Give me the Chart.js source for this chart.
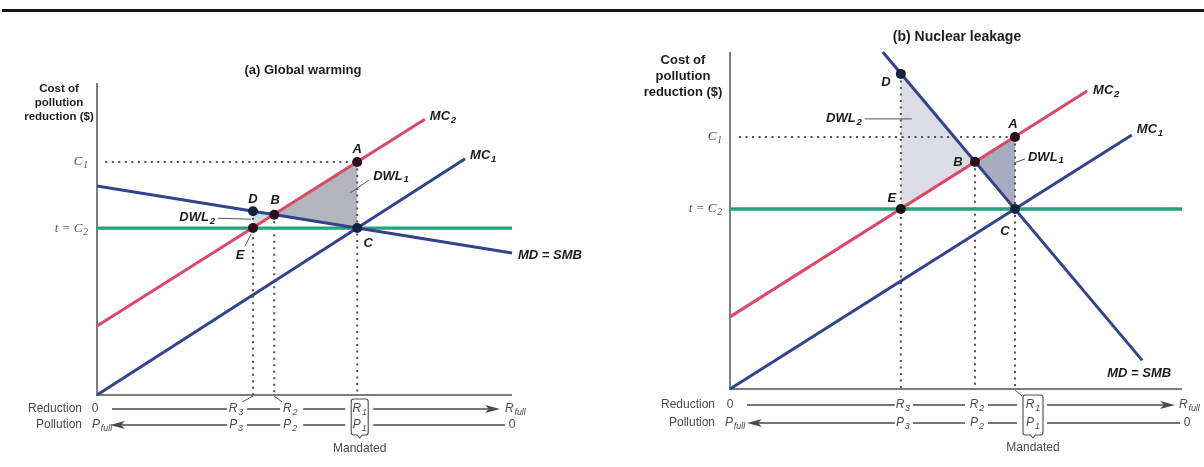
<!DOCTYPE html>
<html>
<head>
<meta charset="utf-8">
<script src="https://cdn.jsdelivr.net/npm/chart.js@4.4.0/dist/chart.umd.min.js"></script>
<style>
  html, body { margin: 0; padding: 0; background: #fff; }
  #wrap { position: relative; width: 1204px; height: 467px; overflow: hidden; }
  #rule { position: absolute; left: 2px; top: 9px; width: 1202px; height: 3px; background: #151515; }
  canvas { position: absolute; top: 0; }
  #ca { left: 0; }
  #cb { left: 602px; }
</style>
</head>
<body>
<div id="wrap">
  <div id="rule"></div>
  <canvas id="ca" width="602" height="467"></canvas>
  <canvas id="cb" width="602" height="467"></canvas>
</div>
<script>
// ---------- shared labels ----------
const pointNames = ['A', 'B', 'C', 'D', 'E'];
const costTickLabels = ['C_1', 't = C_2'];
const reductionLabels = ['R_3', 'R_2', 'R_1'];
const pollutionLabels = ['P_3', 'P_2', 'P_1'];
const dropFrom = ['D', 'B', 'A'];          // point each dotted drop line starts from

// ---------- (a) Global warming ----------
const gwMC1 = [{x: 0, y: 0}, {x: 88.7, y: 75.7}];
const gwMC2 = [{x: 0, y: 22.1}, {x: 79.0, y: 88.4}];
const gwMD  = [{x: 0, y: 67.0}, {x: 100, y: 45.5}];
const gwTax = [{x: 0, y: 53.5}, {x: 100, y: 53.5}];
const gwPointX = [62.7, 42.7, 62.7, 37.6, 37.6];
const gwPointY = [74.7, 57.8, 53.5, 58.9, 53.5];
const gwReduction = [37.6, 42.7, 62.7];   // R3, R2, R1
const gwCostTicks = [74.7, 53.5];         // C1, t = C2
const gwDWL1 = ['A', 'B', 'C'];
const gwDWL2 = ['D', 'B', 'E'];

// ---------- (b) Nuclear leakage ----------
const nlMC1 = [{x: 0, y: 0}, {x: 88.9, y: 75.4}];
const nlMC2 = [{x: 0, y: 21.4}, {x: 79.0, y: 88.4}];
const nlMD  = [{x: 33.8, y: 100}, {x: 91.2, y: 8.5}];
const nlTax = [{x: 0, y: 53.4}, {x: 100, y: 53.4}];
const nlPointX = [63.05, 54.2, 63.05, 37.8, 37.8];
const nlPointY = [74.8, 67.4, 53.4, 93.5, 53.4];
const nlReduction = [37.8, 54.2, 63.05];
const nlCostTicks = [74.8, 53.4];
const nlDWL1 = ['B', 'A', 'C'];
const nlDWL2 = ['D', 'B', 'E'];

// ---------- styling ----------
const SANS = '"Liberation Sans", Arial, sans-serif';
const SERIF = '"Liberation Serif", "Times New Roman", serif';
const NAVY = '#33438c';
const RED = '#dd4867';
const GREEN = '#23a27c';
const AXIS = '#7d7d7d';
const DOTTED = '#505050';
const ROW = '#4a4a4a';

function font(size, family, style, weight) {
  return [style || '', weight || '', size + 'px', family].join(' ').trim();
}

function plainText(ctx, s, x, y, f, color, align) {
  ctx.font = f; ctx.fillStyle = color; ctx.textAlign = align || 'left'; ctx.textBaseline = 'middle';
  ctx.fillText(s, x, y);
}

// draws "MAIN_SUB" with the part after the underscore as a subscript
function rich(ctx, label, x, y, o) {
  const parts = label.split('_');
  const main = parts[0], sub = parts[1];
  const subSize = Math.round(o.size * 0.74 * 10) / 10;
  ctx.font = font(o.size, o.family, o.style, o.weight);
  const w1 = ctx.measureText(main).width;
  let w2 = 0;
  if (sub) { ctx.font = font(subSize, o.family, o.style, o.weight); w2 = ctx.measureText(sub).width + 0.8; }
  let x0 = x;
  if (o.align === 'center') x0 = x - (w1 + w2) / 2;
  else if (o.align === 'right') x0 = x - (w1 + w2);
  ctx.fillStyle = o.color; ctx.textAlign = 'left'; ctx.textBaseline = 'middle';
  ctx.font = font(o.size, o.family, o.style, o.weight);
  ctx.fillText(main, x0, y);
  if (sub) {
    ctx.font = font(subSize, o.family, o.style, o.weight);
    ctx.fillText(sub, x0 + w1 + 0.8, y + o.size * 0.3);
  }
}

function arrowHead(ctx, x, y, dir) {
  ctx.beginPath();
  ctx.moveTo(x, y);
  ctx.lineTo(x - dir * 15, y - 4);
  ctx.lineTo(x - dir * 11, y);
  ctx.lineTo(x - dir * 15, y + 4);
  ctx.closePath();
  ctx.fill();
}

function bracketBox(ctx, cx, top, bottom, half) {
  const r = 2.5, l = cx - half, rr = cx + half;
  ctx.beginPath();
  ctx.moveTo(l + r, top); ctx.lineTo(rr - r, top); ctx.quadraticCurveTo(rr, top, rr, top + r);
  ctx.lineTo(rr, bottom - r); ctx.quadraticCurveTo(rr, bottom, rr - r, bottom);
  ctx.lineTo(cx + 2.5, bottom); ctx.lineTo(cx, bottom + 3); ctx.lineTo(cx - 2.5, bottom);
  ctx.lineTo(l + r, bottom); ctx.quadraticCurveTo(l, bottom, l, bottom - r);
  ctx.lineTo(l, top + r); ctx.quadraticCurveTo(l, top, l + r, top);
  ctx.stroke();
}

function segLine(ctx, y, from, to, gaps) {
  const xs = [from];
  gaps.forEach(g => { xs.push(g[0]); xs.push(g[1]); });
  xs.push(to);
  ctx.beginPath();
  for (let i = 0; i < xs.length; i += 2) { ctx.moveTo(xs[i], y); ctx.lineTo(xs[i + 1], y); }
  ctx.stroke();
}

function lineSet(label, data, color, width, order) {
  return { label, data, borderColor: color, borderWidth: width, pointRadius: 0, fill: false,
           order, clip: false, tension: 0, borderCapStyle: 'butt' };
}
function dottedSet(label, data) {
  return { label, data, borderColor: DOTTED, borderWidth: 2, borderDash: [2, 4.5], pointRadius: 0,
           fill: false, order: 3, clip: false, tension: 0 };
}
function areaSet(label, data, color) {
  return { label, data, borderWidth: 0, borderColor: 'rgba(0,0,0,0)', backgroundColor: color,
           fill: 'shape', pointRadius: 0, order: 4, clip: false, tension: 0 };
}

function buildPanel(canvasId, L, D) {
  const pt = {};
  pointNames.forEach((n, i) => { pt[n] = { x: D.px[i], y: D.py[i] }; });
  const poly = names => names.map(n => pt[n]).concat([pt[names[0]]]);

  const datasets = [
    { label: 'points', data: pointNames.map(n => pt[n]), showLine: false, pointRadius: 5,
      pointBackgroundColor: pointNames.map(n => L.dotColor[n]), pointBorderWidth: 0, order: 0, clip: false },
    lineSet('MC2', D.mc2, RED, 3, 1),
    lineSet('MC1', D.mc1, NAVY, 3, 1),
    lineSet('MD = SMB', D.md, NAVY, 3, 1),
    lineSet('t', D.tax, GREEN, 3.4, 2),
    dottedSet('C1', [{ x: 2, y: D.costTicks[0] }, { x: pt.A.x, y: D.costTicks[0] }])
  ];
  D.reduction.forEach((r, i) => {
    datasets.push(dottedSet('drop' + i, [{ x: r, y: pt[dropFrom[i]].y }, { x: r, y: 0 }]));
  });
  datasets.push(areaSet('DWL1', poly(D.dwl1), L.dwl1Color));
  datasets.push(areaSet('DWL2', poly(D.dwl2), L.dwl2Color));

  const curves = { mc1: D.mc1, mc2: D.mc2, md: D.md };

  const art = {
    id: 'panelArt',
    beforeDatasetsDraw(chart) {
      const ctx = chart.ctx;
      const X = v => chart.scales.x.getPixelForValue(v), Y = v => chart.scales.y.getPixelForValue(v);
      ctx.save();
      ctx.strokeStyle = AXIS; ctx.lineWidth = 2;
      ctx.beginPath();
      ctx.moveTo(X(0), Y(100)); ctx.lineTo(X(0), Y(0)); ctx.lineTo(X(100), Y(0));
      ctx.stroke();
      ctx.restore();
    },
    afterDatasetsDraw(chart) {
      const ctx = chart.ctx;
      const X = v => chart.scales.x.getPixelForValue(v), Y = v => chart.scales.y.getPixelForValue(v);
      ctx.save();

      // panel title and vertical-axis caption
      plainText(ctx, L.title, L.titleAt[0], L.titleAt[1], font(L.titleSize, SANS, '', 'bold'), '#1e1e1e', 'center');
      L.yCaption.forEach((s, i) =>
        plainText(ctx, s, L.yCapAt[0], L.yCapAt[1] + i * L.yCapLH, font(L.yCapSize, SANS, '', 'bold'), '#1e1e1e', 'center'));

      // cost tick labels
      D.costTicks.forEach((v, i) =>
        rich(ctx, costTickLabels[i], X(0) - L.tickGap, Y(v), { size: 13, family: SERIF, style: 'italic', color: '#555', align: 'right' }));

      // point letters
      pointNames.forEach(n => {
        const o = L.letterOff[n];
        rich(ctx, n, X(pt[n].x) + o[0], Y(pt[n].y) + o[1], { size: 13, family: SANS, style: 'italic', weight: 'bold', color: '#1b1b1b', align: 'center' });
      });

      // curve names
      L.curveLabels.forEach(c => {
        const end = curves[c[1]][curves[c[1]].length - 1];
        rich(ctx, c[0], X(end.x) + c[2], Y(end.y) + c[3], { size: 13, family: SANS, style: 'italic', weight: 'bold', color: '#1b1b1b', align: 'left' });
      });

      // deadweight-loss names
      L.dwlLabels.forEach(c => {
        rich(ctx, c[0], X(pt[c[1]].x) + c[2], Y(pt[c[1]].y) + c[3], { size: 13, family: SANS, style: 'italic', weight: 'bold', color: '#1b1b1b', align: c[4] });
      });

      // leader lines
      ctx.strokeStyle = '#555'; ctx.lineWidth = 1;
      L.leaders.forEach(l => {
        const ax = X(pt[l[0]].x), ay = Y(pt[l[0]].y);
        ctx.beginPath(); ctx.moveTo(ax + l[1], ay + l[2]); ctx.lineTo(ax + l[3], ay + l[4]); ctx.stroke();
      });

      // reduction / pollution rows under the axis
      const R = L.row;
      const x0 = X(0), x100 = X(100), base = Y(0);
      const yR = base + R.rY, yP = base + R.pY;
      const c3 = X(D.reduction[0]) + R.c3, c2 = X(D.reduction[1]) + R.c2, c1 = X(D.reduction[2]) + R.c1;
      const centres = [c3, c2, c1];
      const gaps = [[c3 - R.g3[0], c3 + R.g3[1]], [c2 - R.g2[0], c2 + R.g2[1]], [c1 - R.g1[0], c1 + R.g1[1]]];

      const rowFont = font(12, SANS);
      plainText(ctx, 'Reduction', x0 - 15, yR, rowFont, ROW, 'right');
      plainText(ctx, 'Pollution', x0 - 15, yP, rowFont, ROW, 'right');
      plainText(ctx, '0', x0 + R.zeroR, yR, rowFont, ROW, 'center');
      rich(ctx, 'P_full', x0 + R.pFullAt, yP, { size: 12, family: SANS, style: 'italic', color: ROW, align: 'left' });
      rich(ctx, 'R_full', x100 + R.rFullAt, yR, { size: 12, family: SANS, style: 'italic', color: ROW, align: 'left' });
      plainText(ctx, '0', x100 + R.zeroP, yP, rowFont, ROW, 'center');

      centres.forEach((c, i) => {
        rich(ctx, reductionLabels[i], c, yR, { size: 12, family: SANS, style: 'italic', color: ROW, align: 'center' });
        rich(ctx, pollutionLabels[i], c, yP, { size: 12, family: SANS, style: 'italic', color: ROW, align: 'center' });
      });

      ctx.strokeStyle = ROW; ctx.fillStyle = ROW; ctx.lineWidth = 1.3;
      segLine(ctx, yR, x0 + R.rFrom, x100 + R.rTo - 4, gaps);
      arrowHead(ctx, x100 + R.rTo, yR, 1);
      segLine(ctx, yP, x0 + R.pFrom + 4, x100 + R.pTo, gaps);
      arrowHead(ctx, x0 + R.pFrom, yP, -1);

      ctx.lineWidth = 1.1;
      bracketBox(ctx, c1, base + R.box[0], base + R.box[1], R.boxHalf);
      plainText(ctx, 'Mandated', c1, base + R.mandY, rowFont, ROW, 'center');

      ctx.strokeStyle = '#555'; ctx.lineWidth = 1;
      R.leaders.forEach(l => {
        ctx.beginPath();
        ctx.moveTo(centres[l[0]] + l[1], base + l[2]);
        ctx.lineTo(X(D.reduction[l[0]]), base + 1);
        ctx.stroke();
      });

      ctx.restore();
    }
  };

  return new Chart(document.getElementById(canvasId), {
    type: 'line',
    data: { datasets },
    options: {
      responsive: false,
      animation: false,
      devicePixelRatio: 1,
      events: [],
      layout: { padding: L.padding },
      plugins: { legend: { display: false }, tooltip: { enabled: false }, title: { display: false } },
      scales: {
        x: { type: 'linear', min: 0, max: 100, display: false },
        y: { type: 'linear', min: 0, max: 100, display: false }
      }
    },
    plugins: [art]
  });
}

const yCaption = ['Cost of', 'pollution', 'reduction ($)'];

buildPanel('ca', {
  padding: { left: 97, right: 90, top: 83, bottom: 72 },
  title: '(a) Global warming', titleAt: [303, 70], titleSize: 13,
  yCaption, yCapAt: [59, 89], yCapLH: 14, yCapSize: 11.5, tickGap: 9,
  dwl1Color: '#b4b5bc', dwl2Color: '#c8dfde',
  dotColor: { A: '#2a0f1c', B: '#2a0f1c', E: '#2a0f1c', C: '#17203d', D: '#17203d' },
  letterOff: { A: [0, -13], B: [1, -14], C: [11, 15], D: [0, -12], E: [-13, 27] },
  curveLabels: [['MC_2', 'mc2', 5, -3], ['MC_1', 'mc1', 5, -3], ['MD = SMB', 'md', 6, 2]],
  dwlLabels: [['DWL_1', 'A', 16, 14, 'left'], ['DWL_2', 'D', -38, 6, 'right']],
  leaders: [['E', -8, 18, -2, 6], ['A', 12, 18, -7, 31], ['D', -35, 7, -2, 8]],
  row: {
    rY: 14, pY: 30, mandY: 54, box: [4, 40], boxHalf: 8.5,
    c3: -17, c2: 16, c1: 2.5,
    g3: [9, 11], g2: [10, 13], g1: [14.5, 13.5],
    rFrom: 15, rTo: -12, pFrom: 13, pTo: -7,
    zeroR: -2, pFullAt: -5, rFullAt: -7, zeroP: 0,
    leaders: [[0, 6, 7], [1, -8, 7]]
  }
}, {
  px: gwPointX, py: gwPointY, mc1: gwMC1, mc2: gwMC2, md: gwMD, tax: gwTax,
  reduction: gwReduction, costTicks: gwCostTicks, dwl1: gwDWL1, dwl2: gwDWL2
});

buildPanel('cb', {
  padding: { left: 128, right: 22, top: 52, bottom: 78 },
  title: '(b) Nuclear leakage', titleAt: [355, 37], titleSize: 14,
  yCaption, yCapAt: [81, 60], yCapLH: 16, yCapSize: 13, tickGap: 8,
  dwl1Color: '#a8acbf', dwl2Color: '#dcdce4',
  dotColor: { A: '#2a0f1c', B: '#2a0f1c', E: '#141414', C: '#17203d', D: '#17203d' },
  letterOff: { A: [-2, -13], B: [-17, 1], C: [-10, 22], D: [-15, 9], E: [-9, -11] },
  curveLabels: [['MC_2', 'mc2', 6, -1], ['MC_1', 'mc1', 5, -5], ['MD = SMB', 'md', -35, 13]],
  dwlLabels: [['DWL_2', 'D', -39, 45, 'right'], ['DWL_1', 'A', 13, 20, 'left']],
  leaders: [['D', -36, 45, 11, 45], ['A', 10, 22, -1, 26]],
  row: {
    rY: 16, pY: 34, mandY: 59, box: [6, 46], boxHalf: 10,
    c3: 2, c2: 2, c1: 18,
    g3: [8, 10], g2: [12, 11], g1: [16, 14],
    rFrom: 17, rTo: -7, pFrom: 17, pTo: -2,
    zeroR: 0, pFullAt: -5, rFullAt: -3, zeroP: 5,
    leaders: [[2, -11, 7]]
  }
}, {
  px: nlPointX, py: nlPointY, mc1: nlMC1, mc2: nlMC2, md: nlMD, tax: nlTax,
  reduction: nlReduction, costTicks: nlCostTicks, dwl1: nlDWL1, dwl2: nlDWL2
});
</script>
</body>
</html>
